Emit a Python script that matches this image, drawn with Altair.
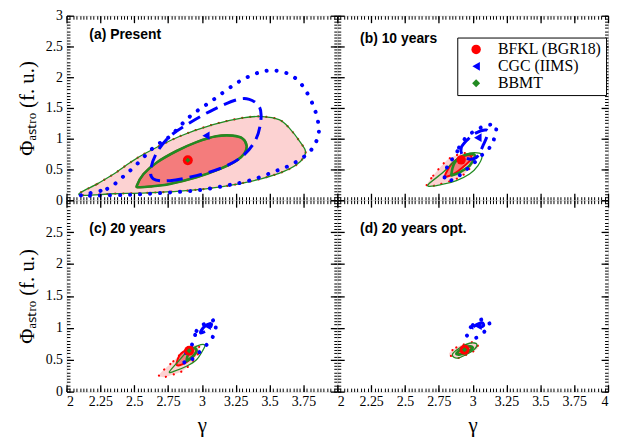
import altair as alt
import pandas as pd

# ---------------- data ----------------
MODELS = ["BFKL (BGR18)", "CGC (IIMS)", "BBMT"]
COLORS = ["#ff0000", "#0000ff", "#228b22"]

# panel (a) Present
A_RED2 = [(2.093, 0.088), (2.227, 0.265), (2.349, 0.426), (2.471, 0.614), (2.593, 0.775),
          (2.837, 1.04), (3.082, 1.23), (3.302, 1.34), (3.448, 1.36), (3.570, 1.31),
          (3.643, 1.18), (3.729, 0.935), (3.766, 0.775), (3.705, 0.587), (3.570, 0.437),
          (3.326, 0.29), (3.082, 0.20), (2.837, 0.147), (2.593, 0.12), (2.349, 0.105)]
A_RED1 = [(2.520, 0.238), (2.569, 0.426), (2.667, 0.614), (2.813, 0.80), (2.960, 0.945),
          (3.106, 1.04), (3.228, 1.05), (3.302, 1.0), (3.331, 0.88), (3.314, 0.76),
          (3.253, 0.64), (3.130, 0.506), (2.960, 0.373), (2.764, 0.265), (2.618, 0.222),
          (2.533, 0.212)]
A_GRN2 = A_RED2
A_GRN1 = A_RED1
A_BLU1 = [(2.642, 0.346), (2.764, 0.318), (2.960, 0.40), (3.155, 0.534), (3.302, 0.72),
          (3.399, 0.99), (3.436, 1.31), (3.424, 1.52), (3.350, 1.64), (3.253, 1.63),
          (3.082, 1.47), (2.911, 1.26), (2.764, 1.04), (2.667, 0.775), (2.623, 0.506)]
A_BLU2 = [(2.105, 0.077), (2.300, 0.185), (2.398, 0.346), (2.508, 0.56), (2.642, 0.855),
          (2.764, 1.04), (2.911, 1.36), (3.082, 1.63), (3.253, 1.90), (3.399, 2.06),
          (3.521, 2.11), (3.643, 2.05), (3.741, 1.87), (3.826, 1.52), (3.863, 1.20),
          (3.851, 0.99), (3.79, 0.775), (3.668, 0.587), (3.521, 0.453), (3.350, 0.318),
          (3.179, 0.238), (2.960, 0.158), (2.716, 0.12), (2.471, 0.088), (2.227, 0.077)]
A_BEST = [(2.896, 0.65), (3.03, 1.05), (2.896, 0.65)]

# panel (b) 10 years
B_RED2 = [(2.660, 0.238), (2.709, 0.399), (2.770, 0.56), (2.819, 0.667), (2.868, 0.72),
          (2.928, 0.764), (2.989, 0.75), (3.014, 0.64), (2.953, 0.453), (2.880, 0.346),
          (2.782, 0.276), (2.721, 0.238)]
B_RED1 = [(2.795, 0.399), (2.843, 0.587), (2.904, 0.69), (2.977, 0.73), (2.989, 0.667),
          (2.940, 0.56), (2.880, 0.453), (2.819, 0.39)]
B_GRN2 = [(2.667, 0.238), (2.782, 0.453), (2.880, 0.667), (2.977, 0.764), (3.050, 0.764),
          (3.070, 0.710), (3.038, 0.56), (2.977, 0.426), (2.880, 0.319), (2.782, 0.260)]
B_GRN1 = [(2.843, 0.426), (2.868, 0.613), (2.928, 0.72), (3.001, 0.75), (3.014, 0.70),
          (2.977, 0.56), (2.904, 0.453), (2.855, 0.41)]
B_BLU1 = [(2.928, 0.72), (2.916, 0.855), (2.965, 0.99), (3.026, 1.096), (3.099, 1.14),
          (3.11, 1.07), (3.075, 0.88), (3.038, 0.72), (2.989, 0.667)]
B_BLU2 = [(2.868, 0.694), (2.899, 0.855), (2.953, 1.026), (3.021, 1.133), (3.099, 1.214),
          (3.172, 1.214), (3.16, 1.016), (3.135, 0.88), (3.075, 0.747), (3.001, 0.587),
          (2.928, 0.453), (2.868, 0.346), (2.795, 0.319), (2.807, 0.507), (2.831, 0.64)]
B_BEST = [(2.915, 0.656), (3.038, 1.016), (2.915, 0.656)]

# panel (c) 20 years
C_RED2 = [(2.686, 0.268), (2.789, 0.475), (2.850, 0.604), (2.911, 0.692), (2.960, 0.732),
          (2.984, 0.655), (2.935, 0.475), (2.862, 0.33), (2.789, 0.268), (2.716, 0.227)]
C_RED1 = [(2.813, 0.423), (2.838, 0.578), (2.899, 0.67), (2.947, 0.681), (2.955, 0.604),
          (2.911, 0.50), (2.850, 0.423)]
C_GRN2 = [(2.760, 0.31), (2.826, 0.475), (2.899, 0.64), (2.972, 0.722), (3.021, 0.732),
          (3.009, 0.655), (2.960, 0.50), (2.886, 0.397), (2.797, 0.32)]
C_GRN1 = [(2.887, 0.485), (2.906, 0.619), (2.947, 0.681), (2.960, 0.63), (2.918, 0.526)]
C_BLU1 = [(2.99, 0.92), (3.01, 1.0), (3.04, 1.05), (3.07, 1.06), (3.06, 1.0), (3.03, 0.95)]
C_BLU2 = [(2.93, 0.75), (2.96, 0.95), (3.0, 1.04), (3.05, 1.08), (3.1, 1.12), (3.1, 0.98),
          (3.07, 0.82), (3.0, 0.66), (2.94, 0.53), (2.88, 0.44), (2.87, 0.55)]
C_BEST = [(2.906, 0.64), (3.04, 1.03), (2.906, 0.64)]

# panel (d) 20 years opt.
D_RED2 = [(2.826, 0.588), (2.879, 0.692), (2.94, 0.743), (3.014, 0.774), (3.038, 0.68),
          (2.965, 0.59), (2.892, 0.526)]
D_RED1 = [(2.89, 0.6), (2.92, 0.68), (2.97, 0.71), (2.99, 0.67), (2.95, 0.61)]
D_GRN2 = [(2.850, 0.578), (2.90, 0.68), (2.977, 0.758), (3.031, 0.743), (3.0, 0.64),
          (2.892, 0.526)]
D_GRN1 = [(2.88, 0.6), (2.92, 0.67), (2.98, 0.71), (3.0, 0.68), (2.95, 0.61), (2.9, 0.58)]
D_BLU1 = [(3.0, 1.0), (3.03, 1.05), (3.07, 1.08), (3.08, 1.03), (3.04, 1.0)]
D_BLU2 = [(2.953, 0.898), (3.001, 1.042), (3.075, 1.135), (3.124, 1.068), (3.087, 0.94),
          (3.014, 0.836)]
D_BEST = [(2.94, 0.655), (3.04, 1.03), (2.94, 0.655)]

PANEL_LABELS = ["(a) Present", "(b) 10 years", "(c) 20 years", "(d) 20 years opt."]

X_MAJOR = [2, 2.25, 2.5, 2.75, 3, 3.25, 3.5, 3.75, 4]
Y_MAJOR = [0, 0.5, 1, 1.5, 2, 2.5, 3]
X_MINOR = [round(2 + 0.025 * k, 3) for k in range(81)]
Y_MINOR = [round(0.05 * k, 3) for k in range(61)]

# ---------------- helpers ----------------
W = 273
H_TOP = 186
H_BOT = 193
XS = alt.Scale(domain=[2, 4], nice=False, zero=False)
YS = alt.Scale(domain=[0, 3], nice=False, zero=False)
SERIF = "Liberation Serif"
DUMMY = pd.DataFrame({"g": [3.0], "p": [1.5]})


def contour(pts, **mk):
    df = pd.DataFrame({"g": [p[0] for p in pts], "p": [p[1] for p in pts],
                       "i": list(range(len(pts)))})
    return alt.Chart(df).mark_line(interpolate="cardinal-closed", clip=True, **mk).encode(
        x=alt.X("g:Q", scale=XS, axis=None),
        y=alt.Y("p:Q", scale=YS, axis=None),
        order="i:Q",
    )


def point(pt, shape, color, size):
    df = pd.DataFrame({"g": [pt[0]], "p": [pt[1]]})
    return alt.Chart(df).mark_point(shape=shape, filled=True, color=color, size=size,
                                    opacity=1).encode(
        x=alt.X("g:Q", scale=XS, axis=None), y=alt.Y("p:Q", scale=YS, axis=None))


def ax_layer(xaxis, yaxis):
    return alt.Chart(DUMMY).mark_point(opacity=0).encode(
        x=alt.X("g:Q", scale=XS, axis=xaxis), y=alt.Y("p:Q", scale=YS, axis=yaxis))


def tick_axis(orient, offset, values, size, width):
    return alt.Axis(orient=orient, offset=offset, values=values, labels=False, ticks=True,
                    tickSize=size, tickColor="black", tickWidth=width, tickOpacity=1,
                    domain=False, grid=False, title=None, zindex=2)


def panel(red2, red1, grn2, grn1, blu1, blu2, best, label, lab_y, H,
          xlabels=None, ylabels=None, legend=False):
    layers = [
        contour(red2, stroke="#ff0000", strokeWidth=2.2, strokeDash=[0.1, 8],
                strokeCap="round", fill="#fcd2d2"),
        contour(red1, stroke="#ff0000", strokeWidth=2, fill="#f47c7c"),
        contour(grn2, stroke="#228b22", strokeWidth=1.3),
        contour(grn1, stroke="#228b22", strokeWidth=2.6),
        contour(blu2, stroke="#0000ff", strokeWidth=4, strokeDash=[0.1, 10],
                strokeCap="round"),
        contour(blu1, stroke="#0000ff", strokeWidth=3, strokeDash=[13, 7]),
    ]
    if legend:
        df = pd.DataFrame({"g": [b[0] for b in best], "p": [b[1] for b in best], "m": MODELS})
        leg = alt.Legend(title=None, orient="none", legendX=394, legendY=22,
                         labelFont=SERIF, labelFontSize=16, labelColor="black",
                         fillColor="white", strokeColor="black", padding=4,
                         symbolOffset=7, labelOffset=14, rowPadding=1,
                         symbolStrokeWidth=0)
        layers.append(alt.Chart(df).mark_point(filled=True, opacity=1).encode(
            x=alt.X("g:Q", scale=XS, axis=None), y=alt.Y("p:Q", scale=YS, axis=None),
            color=alt.Color("m:N", scale=alt.Scale(domain=MODELS, range=COLORS), legend=leg),
            shape=alt.Shape("m:N", scale=alt.Scale(domain=MODELS,
                                                   range=["circle", "triangle-left", "diamond"]),
                            legend=leg),
            size=alt.Size("m:O", scale=alt.Scale(domain=MODELS, range=[90, 64, 24]),
                          legend=leg),
            order=alt.Order("m:N"),
        ))
    else:
        layers += [point(best[0], "circle", COLORS[0], 100),
                   point(best[1], "triangle-left", COLORS[1], 70),
                   point(best[2], "diamond", COLORS[2], 26)]

    layers.append(alt.Chart(pd.DataFrame({"t": [label]})).mark_text(
        align="left", baseline="middle", font="Liberation Sans", fontWeight="bold",
        fontSize=14, color="black").encode(x=alt.value(23), y=alt.value(lab_y), text="t:N"))

    xlab = None
    if xlabels is not None:
        xlab = alt.Axis(orient="bottom", values=xlabels, ticks=False, domain=False, grid=False,
                        labelPadding=3, labelExpr="'' + datum.value", labelFont=SERIF,
                        labelFontSize=14, labelColor="black", title="γ", titleFont=SERIF,
                        titleFontSize=21, titleFontWeight="normal", titleColor="black",
                        titlePadding=6)
    ylab = None
    if ylabels is not None:
        ylab = alt.Axis(orient="left", values=ylabels, ticks=False, domain=False, grid=False,
                        labelPadding=4, labelExpr="'' + datum.value", labelFont=SERIF,
                        labelFontSize=14, labelColor="black", title="Φₐₛₜᵣₒ (f. u.)",
                        titleFont=SERIF, titleFontSize=21, titleFontWeight="normal",
                        titleColor="black", titlePadding=8)
    layers += [
        ax_layer(xlab, ylab),
        ax_layer(tick_axis("top", -H, X_MAJOR, 7, 1.3), tick_axis("right", -W, Y_MAJOR, 7, 1.3)),
        ax_layer(tick_axis("top", -H, X_MINOR, 3.5, 1), tick_axis("right", -W, Y_MINOR, 3.5, 1)),
        ax_layer(tick_axis("bottom", -H, X_MAJOR, 7, 1.3), tick_axis("left", -W, Y_MAJOR, 7, 1.3)),
        ax_layer(tick_axis("bottom", -H, X_MINOR, 3.5, 1), tick_axis("left", -W, Y_MINOR, 3.5, 1)),
    ]
    return alt.layer(*layers).resolve_axis(x="independent", y="independent").properties(
        width=W, height=H)


pa = panel(A_RED2, A_RED1, A_GRN2, A_GRN1, A_BLU1, A_BLU2, A_BEST, PANEL_LABELS[0], 19,
           H_TOP, ylabels=Y_MAJOR)
pb = panel(B_RED2, B_RED1, B_GRN2, B_GRN1, B_BLU1, B_BLU2, B_BEST, PANEL_LABELS[1], 23,
           H_TOP, legend=True)
pc = panel(C_RED2, C_RED1, C_GRN2, C_GRN1, C_BLU1, C_BLU2, C_BEST, PANEL_LABELS[2], 29,
           H_BOT, xlabels=X_MAJOR[:-1], ylabels=Y_MAJOR[:-1])
pd_ = panel(D_RED2, D_RED1, D_GRN2, D_GRN1, D_BLU1, D_BLU2, D_BEST, PANEL_LABELS[3], 29,
            H_BOT, xlabels=X_MAJOR)

chart = alt.concat(pa, pb, pc, pd_, columns=2, spacing=0, bounds="flush",
                   align="each").properties(
    padding={"left": 8, "top": -2, "right": 2, "bottom": 2}
).configure_view(stroke="black", strokeWidth=1.8).configure(background="white")

chart.save("out.html", embed_options={"renderer": "svg", "actions": False})
